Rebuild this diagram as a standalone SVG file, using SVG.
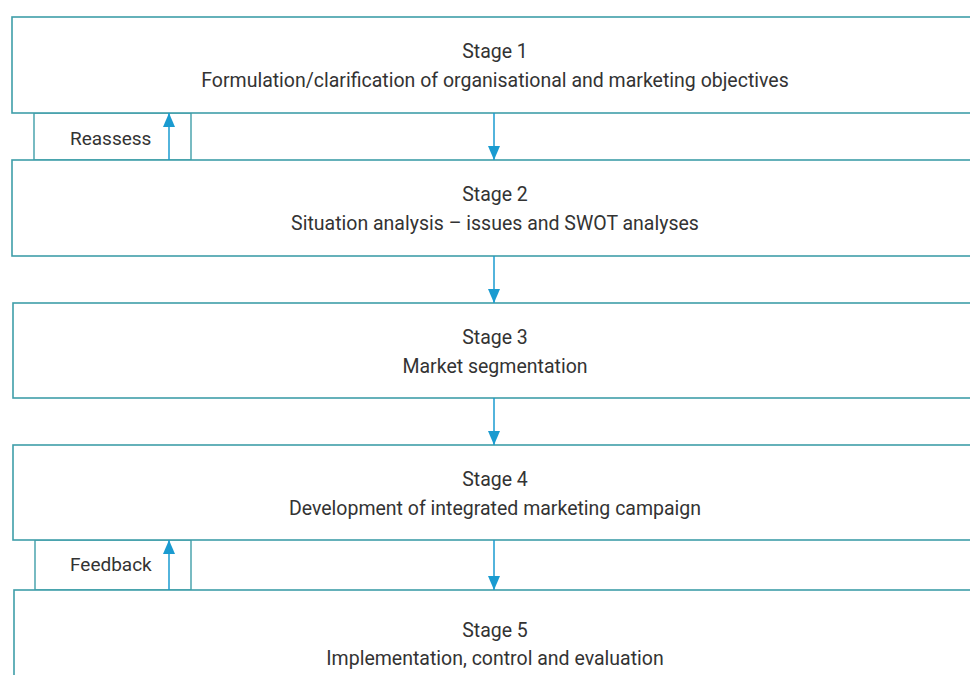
<svg xmlns="http://www.w3.org/2000/svg" width="970" height="675" viewBox="0 0 970 675">
  <style>
    .box { fill: #ffffff; stroke: #3f9ea9; stroke-width: 1.6; }
    .tab { fill: #ffffff; stroke: #3f9ea9; stroke-width: 1.4; }
    .t { font-family: Roboto, "Liberation Sans", sans-serif; font-size: 19.5px; fill: #333333; text-anchor: middle; }
    .lbl { font-family: Roboto, "Liberation Sans", sans-serif; font-size: 19px; fill: #333333; }
    .arrow { stroke: #1a9bd0; stroke-width: 1.5; fill: none; }
  </style>
  <defs>
    <marker id="head" viewBox="0 0 14 12" refX="14" refY="6" markerWidth="14" markerHeight="12" markerUnits="userSpaceOnUse" orient="auto">
      <path d="M0,0 L14,6 L0,12 Z" fill="#1a9bd0"/>
    </marker>
  </defs>
  <rect width="970" height="675" fill="#ffffff"/>

  <!-- feedback tabs between stages -->
  <g id="reassess">
    <rect class="tab" x="34" y="113" width="157" height="47"/>
    <text class="lbl" x="70" y="145">Reassess</text>
  </g>
  <g id="feedback">
    <rect class="tab" x="35" y="540" width="156" height="50"/>
    <text class="lbl" x="70" y="571">Feedback</text>
  </g>

  <g id="stage1">
    <rect class="box" x="12" y="17" width="970" height="96"/>
    <text class="t" x="495" y="58">Stage 1</text>
    <text class="t" x="495" y="87">Formulation/clarification of organisational and marketing objectives</text>
  </g>
  <g id="stage2">
    <rect class="box" x="12" y="160" width="970" height="96"/>
    <text class="t" x="495" y="201">Stage 2</text>
    <text class="t" x="495" y="230">Situation analysis – issues and SWOT analyses</text>
  </g>
  <g id="stage3">
    <rect class="box" x="13" y="303" width="970" height="95"/>
    <text class="t" x="495" y="344">Stage 3</text>
    <text class="t" x="495" y="373">Market segmentation</text>
  </g>
  <g id="stage4">
    <rect class="box" x="13" y="445" width="970" height="95"/>
    <text class="t" x="495" y="486">Stage 4</text>
    <text class="t" x="495" y="515">Development of integrated marketing campaign</text>
  </g>
  <g id="stage5">
    <rect class="box" x="14" y="590" width="970" height="100"/>
    <text class="t" x="495" y="637">Stage 5</text>
    <text class="t" x="495" y="665">Implementation, control and evaluation</text>
  </g>

  <g id="connectors">
    <line class="arrow" x1="494" y1="113" x2="494" y2="160" marker-end="url(#head)"/>
    <line class="arrow" x1="494" y1="256" x2="494" y2="303" marker-end="url(#head)"/>
    <line class="arrow" x1="494" y1="398" x2="494" y2="445" marker-end="url(#head)"/>
    <line class="arrow" x1="494" y1="540" x2="494" y2="590" marker-end="url(#head)"/>
    <line class="arrow" x1="169" y1="160" x2="169" y2="113" marker-end="url(#head)"/>
    <line class="arrow" x1="169" y1="590" x2="169" y2="540" marker-end="url(#head)"/>
  </g>
</svg>
